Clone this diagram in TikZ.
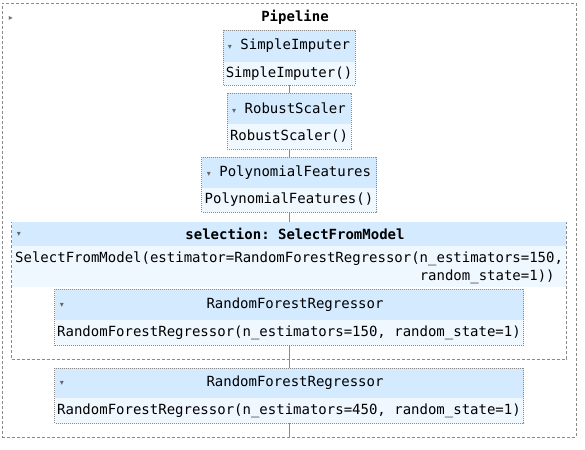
\documentclass[tikz,border=0pt]{standalone}
\usepackage{fontspec}
\setmainfont{DejaVu Sans Mono}
\newfontfamily\symfont{DejaVu Sans}
\usetikzlibrary{positioning}
\definecolor{hdrblue}{HTML}{D4EBFF}
\definecolor{bodyblue}{HTML}{F0F8FF}
\definecolor{framegray}{HTML}{8A8A8A}
\newcommand{\tri}{{\symfont\fontsize{8}{8}\selectfont\textcolor{black!60}{▾}}}
\newcommand{\trir}{{\symfont\fontsize{8}{8}\selectfont\textcolor{black!55}{▸}}}

\tikzset{
  hdr/.style={fill=hdrblue, inner sep=0pt, outer sep=0pt},
  bdy/.style={fill=bodyblue, inner sep=0pt, outer sep=0pt},
  boxline/.style={draw=framegray, line width=0.8pt, dash pattern=on 0.8pt off 1.2pt},
  frame/.style={draw=framegray, line width=0.7pt, dash pattern=on 3pt off 2pt, inner sep=0pt, outer sep=0pt},
  link/.style={draw=framegray, line width=0.7pt},
}

\begin{document}
\frenchspacing
\begin{tikzpicture}[x=1pt, y=-1pt, every node/.append style={font=\fontsize{14}{18}\selectfont\frenchspacing}]
  \useasboundingbox[fill=white] (0,0) rectangle (585,449);

  % outer pipeline frame
  \node[frame, minimum width=574, minimum height=434] (pipe) at (289,220) {};
  \node (pipeArrow) at (11,18) {\trir};
  \node[font=\fontsize{14}{18}\selectfont\bfseries] (pipeLabel) at (295,17) {Pipeline};

  % SimpleImputer
  \node[hdr, minimum width=132, minimum height=32] (siH) at (289,46) {\tri\ SimpleImputer};
  \node[bdy, minimum width=132, minimum height=23, below=0pt of siH] (siB) {SimpleImputer()};
  \draw[boxline] (siH.north west) rectangle (siB.south east);

  % RobustScaler
  \node[hdr, minimum width=124, minimum height=31] (rsH) at (289,108.5) {\tri\ RobustScaler};
  \node[bdy, minimum width=124, minimum height=25, below=0pt of rsH] (rsB) {RobustScaler()};
  \draw[boxline] (rsH.north west) rectangle (rsB.south east);

  % PolynomialFeatures
  \node[hdr, minimum width=175, minimum height=31] (pfH) at (289,172.5) {\tri\ PolynomialFeatures};
  \node[bdy, minimum width=175, minimum height=24, below=0pt of pfH] (pfB) {PolynomialFeatures()};
  \draw[boxline] (pfH.north west) rectangle (pfB.south east);

  % selection: SelectFromModel
  \node[frame, minimum width=555, minimum height=137] (sel) at (289,290.5) {};
  \node[hdr, minimum width=554, minimum height=24, anchor=north] (selH) at ([yshift=0.5pt]sel.north) {};
  \node[bdy, minimum width=554, minimum height=41, below=0pt of selH] (selB) {};
  \node (selArrow) at (19,234) {\tri};
  \node[font=\fontsize{14}{18}\selectfont\bfseries\frenchspacing] (selLabel) at (295,234) {selection: SelectFromModel};
  \node[align=left, inner sep=0pt, anchor=west] (selText) at (15,268)
    {SelectFromModel(estimator=RandomForestRegressor(n\_estimators=150,\\
     \phantom{SelectFromModel(estimator=RandomForestRegressor(}random\_state=1))};

  % inner RandomForestRegressor
  \node[hdr, minimum width=469, minimum height=31] (rfH) at (289,304.5) {};
  \node[bdy, minimum width=469, minimum height=25, below=0pt of rfH] (rfB) {RandomForestRegressor(n\_estimators=150, random\_state=1)};
  \draw[boxline] (rfH.north west) rectangle (rfB.south east);
  \node (rfArrow) at (62,305) {\tri};
  \node (rfLabel) at (295,305) {RandomForestRegressor};

  % final RandomForestRegressor
  \node[hdr, minimum width=469, minimum height=30] (rfrH) at (289,383) {};
  \node[bdy, minimum width=469, minimum height=25, below=0pt of rfrH] (rfrB) {RandomForestRegressor(n\_estimators=450, random\_state=1)};
  \draw[boxline] (rfrH.north west) rectangle (rfrB.south east);
  \node (rfrArrow) at (62,383) {\tri};
  \node (rfrLabel) at (295,383) {RandomForestRegressor};

  % links
  \draw[link] (siB.south) -- (rsH.north);
  \draw[link] (rsB.south) -- (pfH.north);
  \draw[link] (pfB.south) -- (sel.north);
  \draw[link] (rfB.south) -- (rfrH.north);
  \draw[link] (rfrB.south) -- (pipe.south);
\end{tikzpicture}
\end{document}
